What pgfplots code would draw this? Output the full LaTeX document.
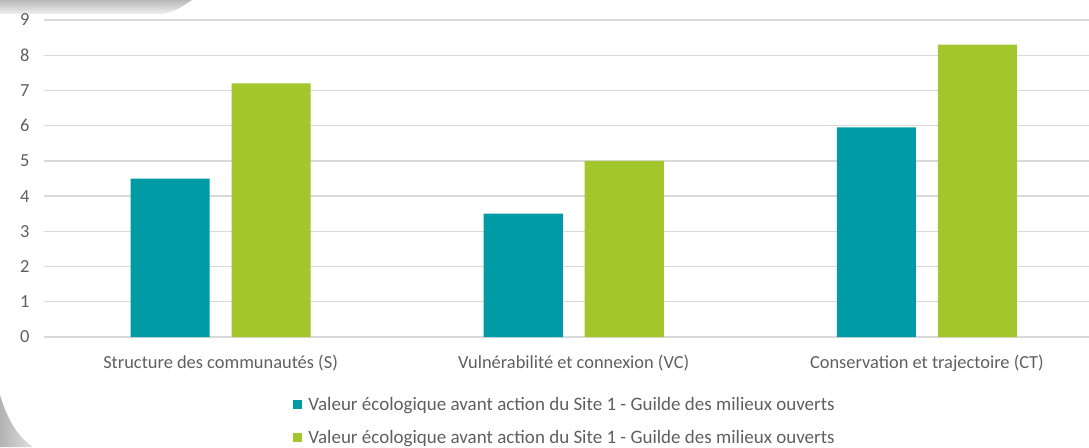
\documentclass[border=0pt]{standalone}
\usepackage{pgfplots}
\pgfplotsset{compat=1.18}
\usepackage{fontspec}
\setmainfont{Carlito}
\definecolor{teal1}{RGB}{0,155,164}
\definecolor{green1}{RGB}{162,198,43}
\definecolor{gridg}{RGB}{217,217,217}
\definecolor{txtg}{RGB}{95,95,95}
\begin{document}
\begin{tikzpicture}
\path[use as bounding box] (-44pt,-110pt) rectangle (1045pt,337pt);
% decorative frame remnants
\shade[top color=gray!55, bottom color=gray!12] (-44pt,337pt) -- (-44pt,323pt) -- (118pt,323pt) .. controls (132pt,325pt) and (140pt,332pt) .. (148pt,337pt) -- cycle;
\shade[left color=gray!60, right color=gray!25] (-44pt,-58pt) .. controls (-36pt,-84pt) and (-26pt,-100pt) .. (-11pt,-110pt) -- (-44pt,-110pt) -- cycle;
\begin{axis}[
  at={(0,0)}, anchor=south west,
  scale only axis,
  width=1045pt, height=317pt,
  xmin=-0.5, xmax=2.459,
  ymin=0, ymax=9,
  ytick={0,1,...,9},
  xtick={0,1,2},
  xticklabels={Structure des communautés (S),Vulnérabilité et connexion (VC),Conservation et trajectoire (CT)},
  axis line style={draw=none},
  major tick length=0pt,
  ymajorgrids,
  grid style={gridg, line width=1.3pt},
  tick label style={font=\fontsize{18.4}{21}\selectfont, text=txtg},
  /pgf/number format/assume math mode=true,
  yticklabel style={xshift=-11pt},
  xticklabel style={yshift=-15pt},
  ybar=0pt,
  bar width=0.224,
  legend style={at={(0.4986,-0.265)}, anchor=center, draw=none, fill=none,
    font=\fontsize{19}{22}\selectfont, text=txtg, row sep=14pt, column sep=4pt,
    legend cell align=left},
  legend image code/.code={\fill[#1] (0pt,-4.5pt) rectangle (9pt,4.5pt);},
  clip=false,
]
\addplot[fill=teal1, draw=none, bar shift=-0.143] coordinates {(0,4.5) (1,3.5) (2,5.95)};
\addplot[fill=green1, draw=none, bar shift=0.143] coordinates {(0,7.2) (1,5.0) (2,8.3)};
\legend{Valeur écologique avant action du Site 1 - Guilde des milieux ouverts,Valeur écologique avant action du Site 1 - Guilde des milieux ouverts}
\end{axis}
\end{tikzpicture}
\end{document}
